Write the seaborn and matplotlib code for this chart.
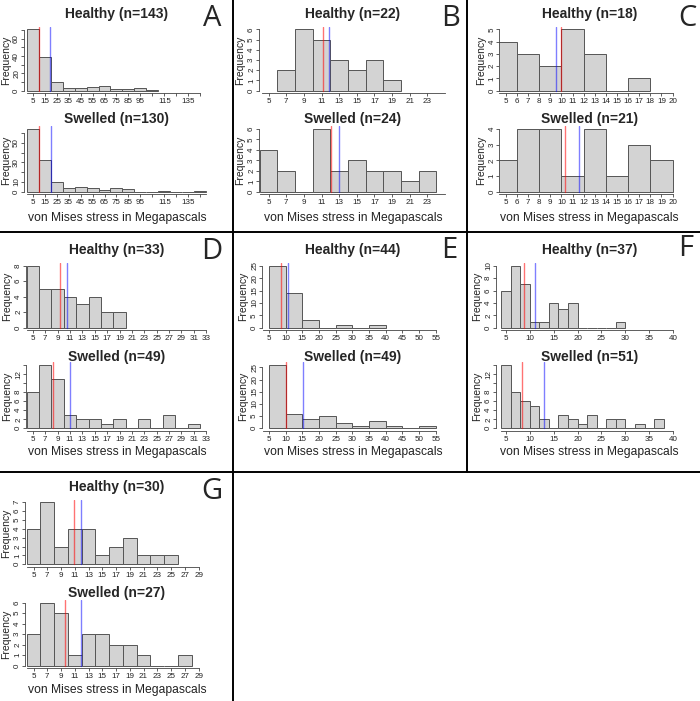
import matplotlib.pyplot as plt
import numpy as np
import pandas as pd
import seaborn as sns
from matplotlib.lines import Line2D

# Histogram counts (Healthy / Swelled for each panel)
panels = ["A", "B", "C", "D", "E", "F", "G"]
bin_width = [10, 2, 2, 2, 5, 2, 2]

healthy_n = [143, 22, 18, 33, 44, 37, 30]
swelled_n = [130, 24, 21, 49, 49, 51, 27]

healthy_start = [0, 6, 4, 4, 5, 4, 4]
swelled_start = [0, 4, 4, 4, 5, 4, 4]

healthy_counts = [
    [71, 39, 10, 3, 3, 4, 5, 2, 2, 3, 1],
    [2, 6, 5, 3, 2, 3, 1],
    [4, 3, 2, 5, 3, 0, 1],
    [8, 5, 5, 4, 3, 4, 2, 2],
    [25, 14, 3, 0, 1, 0, 1],
    [6, 10, 7, 1, 1, 4, 3, 4, 0, 0, 0, 0, 1],
    [4, 7, 2, 4, 4, 1, 2, 3, 1, 1, 1],
]
swelled_counts = [
    [64, 32, 10, 4, 5, 4, 2, 4, 3, 0, 0, 1, 0, 0, 1],
    [4, 2, 0, 6, 2, 3, 2, 2, 1, 2],
    [2, 4, 4, 1, 4, 1, 3, 2],
    [8, 14, 11, 3, 2, 2, 1, 2, 0, 2, 0, 3, 0, 1],
    [26, 6, 4, 5, 2, 1, 3, 1, 0, 1],
    [14, 8, 6, 5, 2, 0, 3, 2, 1, 3, 0, 2, 2, 0, 1, 0, 2],
    [3, 6, 5, 1, 3, 3, 2, 2, 1, 0, 0, 1],
]

# red and blue marker lines
healthy_red = [10.2, 11.2, 9.96, 9.43, 8.7, 8.87, 10.86]
healthy_blue = [19.3, 11.85, 9.54, 10.51, 10.7, 11.04, 11.97]
swelled_red = [10.2, 12.1, 10.32, 8.2, 10.0, 8.39, 9.62]
swelled_blue = [20.5, 12.98, 11.55, 11.05, 15.3, 12.99, 11.97]

# x tick values, and the ones whose label is left out
x_ticks = [
    list(range(5, 146, 10)),
    list(range(5, 24, 2)),
    list(range(5, 21, 1)),
    list(range(5, 34, 2)),
    list(range(5, 56, 5)),
    list(range(5, 41, 5)),
    list(range(5, 30, 2)),
]
x_hidden = [[105, 125, 145], [], [], [], [], [], []]

# y ticks (healthy, swelled) and labels shown
y_ticks_h = [list(range(0, 71, 10)), list(range(7)), list(range(6)), list(range(0, 9, 2)),
             list(range(0, 26, 5)), list(range(0, 11, 2)), list(range(8))]
y_ticks_s = [list(range(0, 61, 10)), list(range(7)), list(range(5)), list(range(0, 15, 2)),
             list(range(0, 26, 5)), list(range(0, 15, 2)), list(range(7))]
y_shown_h = [[0, 20, 40, 60], None, None, None, None, None, None]
y_shown_s = [[0, 10, 30, 50], None, None, [0, 2, 4, 6, 8, 12], None, [0, 2, 4, 6, 8, 12], None]

# ---- layout (pixels) ----
W, H = 700, 701
col_x = [0, 233, 466]
grid_pos = [(0, 0), (1, 0), (2, 0), (0, 1), (1, 1), (2, 1), (0, 2)]
plot_left = [24, 26, 33.3, 26, 29, 30, 25]
plot_right = 212
xlims = [(-2.26, 154.8), (3.92, 24.99), (4.41, 20.49), (3.89, 33.94),
         (2.9, 57.8), (2.96, 40.99), (3.76, 30.95)]
x_span_h = [(0, 145), (4.3, 25), (4.41, 20), (4, 33), (3.2, 55), (4, 40), (4, 29)]
x_span_s = [(0, 150), (4, 25), (4.41, 20), (4, 33), (3.2, 55), (4, 40), (4, 29)]
# per row: (healthy zero, healthy top, swelled zero, swelled top, title h, title s, xlabel)
rows = [
    (90.7, 29.3, 191.7, 129.0, 14.0, 119.0, 218.0),
    (327.7, 265.7, 428.3, 365.0, 250.0, 356.7, 451.7),
    (564.3, 502.3, 665.7, 602.7, 487.3, 593.3, 690.0),
]
title_cx = [117, 353 - 233, 589.3 - 466]
ylab_gap = 18.5
letter_pos = [(211.7, 18.3), (451, 18), (687.7, 18), (211.7, 251.7), (449.7, 250),
              (686, 248), (211.7, 491.7)]

sns.set_style("ticks")
plt.rcParams["font.family"] = ["Liberation Sans", "DejaVu Sans"]

fig = plt.figure(figsize=(7, 7.01), dpi=100)


def fx(px):
    return px / W


def fy(py):
    return 1 - py / H


def draw_hist(i, counts, start, zero_px, top_px, red, blue, yticks, yshown, span):
    c, r = grid_pos[i]
    cx = col_x[c]
    ext = 0.04 * (zero_px - top_px)
    ax = fig.add_axes([fx(cx + plot_left[i]), fy(zero_px + ext),
                       (plot_right - plot_left[i]) / W, (zero_px - top_px + 2 * ext) / H])
    w = bin_width[i]
    edges = [start + w * k for k in range(len(counts) + 1)]
    df = pd.DataFrame({"stress": [e + w / 2 for e in edges[:-1]], "count": counts})
    sns.histplot(data=df, x="stress", weights="count", bins=edges, color="#d3d3d3",
                 edgecolor="#555555", linewidth=0.7, alpha=1, ax=ax)
    m = max(counts)
    ax.set_ylim(-0.04 * m, 1.04 * m)
    ax.set_xlim(*xlims[i])
    ymin = 0.04 / 1.08
    ax.axvline(red, ymin=ymin, ymax=1, color="red", alpha=0.55, lw=1.0)
    ax.axvline(blue, ymin=ymin, ymax=1, color="blue", alpha=0.5, lw=1.0)
    ax.set_xlabel("")
    ax.set_ylabel("")
    ax.set_facecolor("none")
    ax.set_xticks(x_ticks[i])
    ax.set_xticklabels(["" if t in x_hidden[i] else str(t) for t in x_ticks[i]])
    ax.set_yticks(yticks)
    ax.set_yticklabels([str(t) if (yshown is None or t in yshown) else "" for t in yticks],
                       rotation=90, va="center")
    ax.tick_params(length=2.2, width=0.6, color="#444444", labelsize=5.8,
                   labelcolor="#222222", pad=1.2)
    ax.tick_params(axis="y", pad=0.6)
    for s in ["top", "right"]:
        ax.spines[s].set_visible(False)
    for s in ["left", "bottom"]:
        ax.spines[s].set_color("#444444")
        ax.spines[s].set_linewidth(0.6)
    ax.spines["bottom"].set_bounds(*span)
    ax.spines["left"].set_bounds(yticks[0], yticks[-1])
    return ax


for i, p in enumerate(panels):
    c, r = grid_pos[i]
    cx = col_x[c]
    hz, ht, sz, st, th, ts, xl = rows[r]
    draw_hist(i, healthy_counts[i], healthy_start[i], hz, ht, healthy_red[i], healthy_blue[i],
              y_ticks_h[i], y_shown_h[i], x_span_h[i])
    draw_hist(i, swelled_counts[i], swelled_start[i], sz, st, swelled_red[i], swelled_blue[i],
              y_ticks_s[i], y_shown_s[i], x_span_s[i])

    tx = fx(cx + title_cx[c])
    fig.text(tx, fy(th), f"Healthy (n={healthy_n[i]})", ha="center", va="center",
             fontsize=10, fontweight="bold")
    fig.text(tx, fy(ts), f"Swelled (n={swelled_n[i]})", ha="center", va="center",
             fontsize=10, fontweight="bold")
    fig.text(tx, fy(xl), "von Mises stress in Megapascals", ha="center", va="center",
             fontsize=8.7, color="#222222")
    yx = fx(cx + max(plot_left[i] - ylab_gap, 6))
    fig.text(yx, fy((hz + ht) / 2), "Frequency", rotation=90,
             ha="center", va="center", fontsize=7.5, color="#222222")
    fig.text(yx, fy((sz + st) / 2), "Frequency", rotation=90,
             ha="center", va="center", fontsize=7.5, color="#222222")
    lx, ly = letter_pos[i]
    fig.text(fx(lx), fy(ly), p, ha="center", va="center", fontsize=21,
             family=["Open Sans", "DejaVu Sans"])

# panel borders
for x0, y0, x1, y1 in [(233, 0, 233, 701), (466.5, 0, 466.5, 471.7),
                       (0, 232, 700, 232), (0, 471.7, 700, 471.7)]:
    fig.add_artist(Line2D([fx(x0), fx(x1)], [fy(y0), fy(y1)], color="black", lw=1.4))

fig.savefig("out.png", dpi=100)
